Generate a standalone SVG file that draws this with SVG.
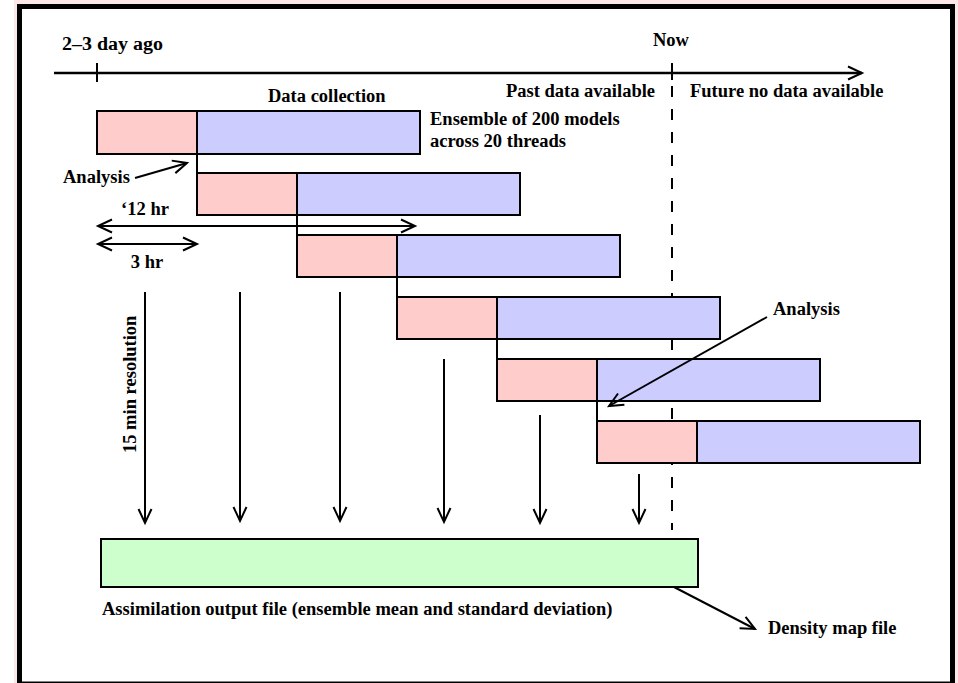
<svg xmlns="http://www.w3.org/2000/svg" width="958" height="683" viewBox="0 0 958 683">
<style>
  text { font-family: "Liberation Serif", "Times New Roman", serif; font-weight: bold; font-size: 18.5px; fill: #000; }
  .bar { stroke: #000; stroke-width: 2; }
  .pink { fill: #ffcccc; }
  .blue { fill: #ccccff; }
  .green { fill: #ccffcc; }
  .ln { stroke: #000; stroke-width: 2; fill: none; }
  .arr { stroke: #000; stroke-width: 2; fill: none; marker-end: url(#ah); }
  .dbl { stroke: #000; stroke-width: 2; fill: none; marker-end: url(#ah); marker-start: url(#ahs); }
</style>
<defs>
  <marker id="ah" markerUnits="userSpaceOnUse" markerWidth="18" markerHeight="16" refX="15" refY="7" orient="auto" viewBox="0 0 18 14">
    <path d="M1,0.5 L15,7 L1,13.5" fill="none" stroke="#000" stroke-width="2"/>
  </marker>
  <marker id="ahs" markerUnits="userSpaceOnUse" markerWidth="18" markerHeight="16" refX="15" refY="7" orient="auto-start-reverse" viewBox="0 0 18 14">
    <path d="M1,0.5 L15,7 L1,13.5" fill="none" stroke="#000" stroke-width="2"/>
  </marker>
</defs>
<rect x="0" y="0" width="958" height="683" fill="#ffffff"/>
<rect x="14" y="0" width="944" height="683" fill="#fde8e8"/>
<rect id="frame" x="19.5" y="6.5" width="933" height="677.5" fill="#ffffff" stroke="#000" stroke-width="5"/>

<g id="timeline">
  <line class="arr" x1="54" y1="73" x2="862" y2="73" style="stroke-width:2.5"/>
  <line class="ln" x1="97" y1="63" x2="97" y2="82"/>
  <line class="ln" x1="672" y1="63" x2="672" y2="80"/>
  <line id="now-dashed" x1="672" y1="86" x2="672" y2="530" stroke="#000" stroke-width="2" stroke-dasharray="11,12"/>
  <text x="62" y="50" textLength="101" lengthAdjust="spacingAndGlyphs">2–3 day ago</text>
  <text x="671" y="46" text-anchor="middle">Now</text>
  <text x="268" y="102">Data collection</text>
  <text x="506" y="97">Past data available</text>
  <text x="690" y="97">Future no data available</text>
</g>

<g id="row1"><rect class="bar pink" x="97" y="111" width="100" height="43"/><rect class="bar blue" x="197" y="111" width="223" height="43"/></g>
<g id="row2"><rect class="bar pink" x="197" y="173" width="100" height="42"/><rect class="bar blue" x="297" y="173" width="223" height="42"/></g>
<g id="row3"><rect class="bar pink" x="297" y="235" width="100" height="42"/><rect class="bar blue" x="397" y="235" width="223" height="42"/></g>
<g id="row4"><rect class="bar pink" x="397" y="297" width="100" height="42"/><rect class="bar blue" x="497" y="297" width="223" height="42"/></g>
<g id="row5"><rect class="bar pink" x="497" y="359" width="100" height="42"/><rect class="bar blue" x="597" y="359" width="223" height="42"/></g>
<g id="row6"><rect class="bar pink" x="597" y="421" width="100" height="42"/><rect class="bar blue" x="697" y="421" width="223" height="42"/></g>

<g id="ensemble-label">
  <text x="430" y="125">Ensemble of 200 models</text>
  <text x="430" y="147">across 20 threads</text>
</g>

<g id="output">
  <rect class="bar green" x="101" y="539" width="597" height="48"/>
  <text x="102" y="615">Assimilation output file (ensemble mean and standard deviation)</text>
</g>
<g id="density"><text x="768" y="634">Density map file</text></g>

<g id="labels">
  <text x="63" y="183">Analysis</text>
  <text x="145" y="215" text-anchor="middle">‘12 hr</text>
  <text x="147" y="268" text-anchor="middle">3 hr</text>
  <text transform="translate(136,453) rotate(-90)">15 min resolution</text>
  <text x="773" y="315">Analysis</text>
</g>

<g id="connectors">
  <line class="ln" x1="197" y1="154" x2="197" y2="173"/>
  <line class="ln" x1="297" y1="215" x2="297" y2="235"/>
  <line class="ln" x1="397" y1="277" x2="397" y2="297"/>
  <line class="ln" x1="497" y1="339" x2="497" y2="359"/>
  <line class="ln" x1="597" y1="401" x2="597" y2="421"/>
  <line class="arr" x1="135" y1="178" x2="187" y2="163"/>
  <line class="arr" x1="767" y1="317" x2="609" y2="406"/>
  <line class="dbl" x1="98" y1="226" x2="415" y2="226"/>
  <line class="dbl" x1="98" y1="244" x2="197" y2="244"/>
  <line class="arr" x1="145" y1="292" x2="145" y2="523"/>
  <line class="arr" x1="240" y1="292" x2="240" y2="521"/>
  <line class="arr" x1="340" y1="292" x2="340" y2="521"/>
  <line class="arr" x1="444" y1="359" x2="444" y2="522"/>
  <line class="arr" x1="540" y1="415" x2="540" y2="523"/>
  <line class="arr" x1="639" y1="474" x2="639" y2="523"/>
  <line class="arr" x1="674" y1="587" x2="755" y2="629"/>
</g>
</svg>
